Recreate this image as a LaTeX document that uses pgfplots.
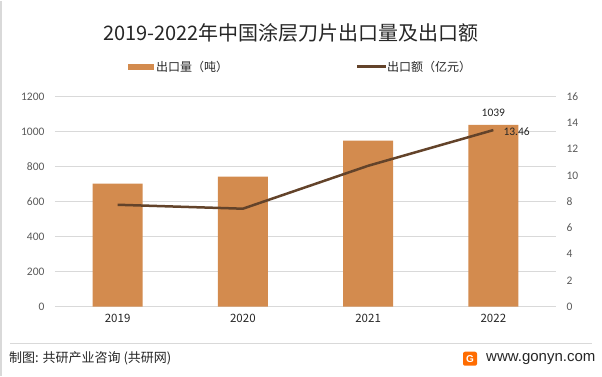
\documentclass[border=0pt]{standalone}
\usepackage{fontspec}
\setmainfont{Carlito}
\newfontfamily\cjk{Noto Sans CJK SC}
\newfontfamily\arial{Liberation Sans}
\usepackage{pgfplots}
\pgfplotsset{compat=1.18}
\definecolor{barc}{RGB}{211,139,78}
\definecolor{linec}{RGB}{99,67,42}
\definecolor{gridc}{RGB}{217,217,217}
\definecolor{tickc}{RGB}{89,89,89}
\definecolor{txt}{RGB}{38,38,38}
\begin{document}
\begin{tikzpicture}[x=1pt,y=1pt]
\path (0,0) rectangle (602,375);
\draw[gridc, line width=1.5] (0.75,0) -- (0.75,375);
\node[font=\cjk\fontsize{20}{24}\selectfont, text=txt] at (291,343) {2019-2022年中国涂层刀片出口量及出口额};
% legend
\fill[barc] (128,306) rectangle (154,312);
\node[anchor=west, inner sep=1pt, font=\cjk\fontsize{12}{14}\selectfont, text=txt] at (155,309) {出口量（吨）};
\draw[linec, line width=2.5] (357,309) -- (386,309);
\node[anchor=west, inner sep=1pt, font=\cjk\fontsize{12}{14}\selectfont, text=txt] at (386,309) {出口额（亿元）};
% footer
\draw[gridc, line width=1] (10,32) -- (592,32);
\node[anchor=west, inner sep=0pt, font=\cjk\fontsize{13}{15}\selectfont, text=txt] at (9,17) {制图: 共研产业咨询 (共研网)};
\fill[orange!85!red, rounded corners=2pt] (463,10) rectangle (477,24);
\node[font=\arial\bfseries\fontsize{10}{10}\selectfont, text=white, inner sep=0pt] at (470,17) {G};
\node[anchor=west, inner sep=0pt, font=\arial\fontsize{15}{17}\selectfont, text=txt] at (486,17) {www.gonyn.com};
\begin{axis}[at={(55pt,69pt)}, anchor=south west, scale only axis,
  width=501pt, height=210pt,
  xmin=-0.5, xmax=3.5, ymin=0, ymax=1200,
  ytick={0,200,...,1200}, xtick={0,1,2,3}, xticklabels={2019,2020,2021,2022},
  axis line style={draw=none}, major tick length=0pt,
  ymajorgrids, grid style={gridc, line width=0.9pt},
  /pgf/number format/assume math mode=true, /pgf/number format/1000 sep={},
  yticklabel style={font=\fontsize{11.5}{13}\selectfont, text=tickc, xshift=-7pt},
  xticklabel style={font=\cjk\fontsize{11.5}{13}\selectfont, text=txt, yshift=-4pt},
  clip=false]
\addplot[ybar, bar width=50pt, fill=barc, draw=none] coordinates {(0,703)(1,743)(2,949)(3,1039)};
\node[above, inner sep=0pt, yshift=8pt, font=\fontsize{11.5}{13}\selectfont, text=txt] at (axis cs:3,1039) {1039};
\end{axis}
\begin{axis}[at={(55pt,69pt)}, anchor=south west, scale only axis,
  width=501pt, height=210pt,
  xmin=-0.5, xmax=3.5, ymin=0, ymax=16,
  ytick={0,2,...,16}, axis x line=none, axis y line*=right,
  axis line style={draw=none}, major tick length=0pt,
  /pgf/number format/assume math mode=true,
  yticklabel style={font=\fontsize{11.5}{13}\selectfont, text=tickc, xshift=7pt},
  clip=false]
\addplot[linec, line width=2.5pt, no markers] coordinates {(0,7.77)(1,7.47)(2,10.74)(3,13.46)};
\node[anchor=west, inner sep=0pt, font=\fontsize{11.5}{13}\selectfont, text=txt] at ([xshift=10pt,yshift=-2pt]axis cs:3,13.46) {13.46};
\end{axis}
\end{tikzpicture}
\end{document}
